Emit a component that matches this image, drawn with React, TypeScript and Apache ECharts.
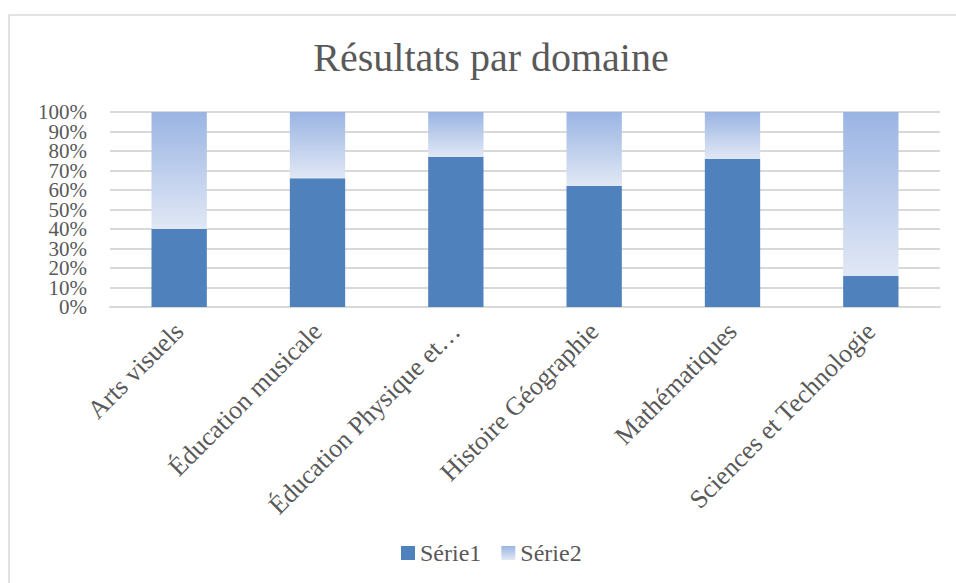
import React, { useEffect, useRef } from "react";
import * as echarts from "echarts";

const categories = [
  "Arts visuels",
  "Éducation musicale",
  "Éducation Physique et Sportive",
  "Histoire Géographie",
  "Mathématiques",
  "Sciences et Technologie",
];
const serie1 = [40, 66, 77, 62, 76, 16];
const serie2 = [60, 34, 23, 38, 24, 84];
const seriesNames = ["Série1", "Série2"];
const titleText = "Résultats par domaine";

const FONT = "'Liberation Serif', 'DejaVu Serif', serif";
const GRAY = "#595959";

export default function App() {
  const ref = useRef<HTMLDivElement>(null);
  useEffect(() => {
    if (!ref.current) return;
    const chart = echarts.init(ref.current, null, { renderer: "svg" });
    const yLabel = {
      formatter: "{value}%",
      margin: 23,
      fontFamily: FONT,
      fontSize: 21,
      color: GRAY,
      lineHeight: 18,
    };
    chart.setOption({
      animation: false,
      backgroundColor: "#ffffff",
      title: {
        text: titleText,
        left: 486,
        textAlign: "center",
        top: 32,
        textStyle: { fontFamily: FONT, fontSize: 40, fontWeight: "normal", color: GRAY },
      },
      graphic: [
        {
          type: "rect",
          shape: { x: 9, y: 15, width: 1000, height: 620 },
          style: { fill: "none", stroke: "#d9d9d9", lineWidth: 1.5 },
          silent: true,
          z: -1,
        },
      ],
      legend: {
        bottom: 13,
        left: 396,
        itemWidth: 14,
        itemHeight: 14,
        itemGap: 20,
        icon: "rect",
        textStyle: { fontFamily: FONT, fontSize: 24, color: GRAY },
        data: seriesNames,
      },
      grid: { left: 110, right: 16, top: 112, bottom: 276, containLabel: false },
      xAxis: {
        type: "category",
        data: categories,
        axisLine: { show: true, lineStyle: { color: "#d9d9d9", width: 2 } },
        axisTick: { show: false },
        axisLabel: {
          rotate: 45,
          interval: 0,
          margin: 20,
          fontFamily: FONT,
          fontSize: 26,
          color: GRAY,
          formatter: (v: string) => (v.length > 25 ? v.slice(0, 21) + "…" : v),
        },
      },
      yAxis: [
        {
          type: "value",
          min: 0,
          max: 100,
          interval: 10,
          axisLine: { show: false },
          axisTick: { show: false },
          splitLine: { lineStyle: { color: "#d9d9d9", width: 2 } },
          axisLabel: { ...yLabel, showMinLabel: false, showMaxLabel: false },
        },
        {
          type: "value",
          position: "left",
          min: 0,
          max: 100,
          interval: 100,
          axisLine: { show: false },
          axisTick: { show: false },
          splitLine: { show: false },
          axisLabel: { ...yLabel, showMinLabel: true, showMaxLabel: true },
        },
      ],
      series: [
        {
          name: seriesNames[0],
          type: "bar",
          stack: "total",
          barWidth: "40%",
          data: serie1,
          itemStyle: { color: "#4f81bd" },
        },
        {
          name: seriesNames[1],
          type: "bar",
          stack: "total",
          barWidth: "40%",
          data: serie2,
          itemStyle: {
            color: new echarts.graphic.LinearGradient(0, 0, 0, 1, [
              { offset: 0, color: "#9ab4e3" },
              { offset: 1, color: "#e1e8f5" },
            ]),
          },
        },
      ],
    });
    return () => chart.dispose();
  }, []);
  return (
    <div
      ref={ref}
      style={{ position: "fixed", left: 0, top: 0, width: 956, height: 583, background: "#fff" }}
    />
  );
}
